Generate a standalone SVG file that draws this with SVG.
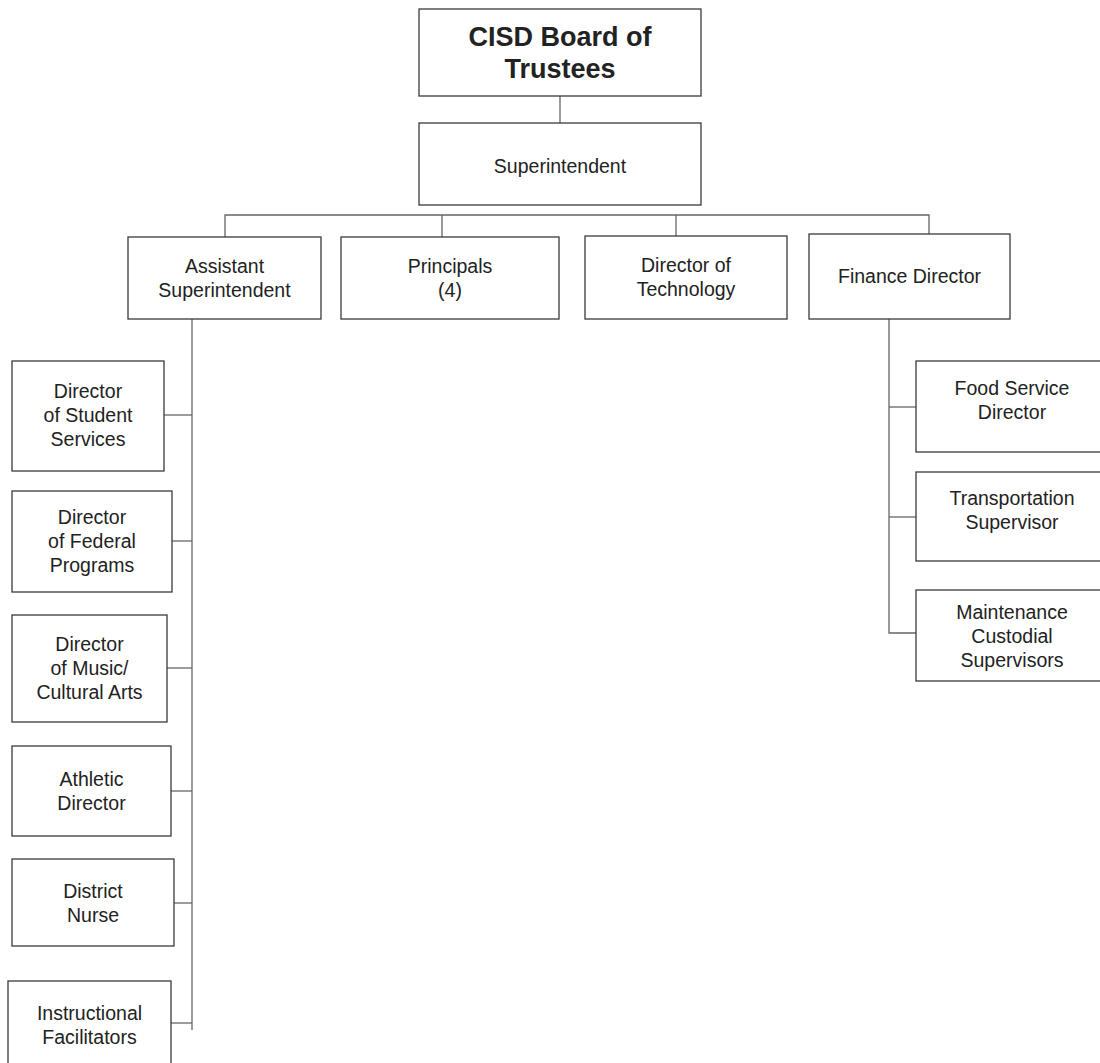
<svg xmlns="http://www.w3.org/2000/svg" width="1100" height="1063" viewBox="0 0 1100 1063">
<style>
  .box { fill: #ffffff; stroke: #3a3a3a; stroke-width: 1.3; }
  .conn { fill: none; stroke: #666666; stroke-width: 1.3; }
  .t { font-family: "Liberation Sans", Arial, sans-serif; font-size: 19.5px; fill: #222222; text-anchor: middle; }
  .tb { font-family: "Liberation Sans", Arial, sans-serif; font-size: 27px; font-weight: bold; fill: #222222; text-anchor: middle; }
</style>
<rect width="1100" height="1063" fill="#ffffff"/>
<g id="connectors">
  <path class="conn" d="M560 96 V123"/>
  <path class="conn" d="M225 237 V215 H929 V234"/>
  <path class="conn" d="M442 215 V237"/>
  <path class="conn" d="M676 215 V236"/>
  <path class="conn" d="M192 319 V1030"/>
  <path class="conn" d="M164 415 H192"/>
  <path class="conn" d="M172 541 H192"/>
  <path class="conn" d="M167 668 H192"/>
  <path class="conn" d="M171 791 H192"/>
  <path class="conn" d="M174 903 H192"/>
  <path class="conn" d="M171 1023 H192"/>
  <path class="conn" d="M889 319 V633 H916"/>
  <path class="conn" d="M889 407 H916"/>
  <path class="conn" d="M889 517 H916"/>
</g>
<g id="board">
  <rect class="box" x="419" y="9" width="282" height="87"/>
  <text class="tb" x="560" y="46">CISD Board of</text>
  <text class="tb" x="560" y="78">Trustees</text>
</g>
<g id="superintendent">
  <rect class="box" x="419" y="123" width="282" height="82"/>
  <text class="t" x="560" y="173">Superintendent</text>
</g>
<g id="asst-superintendent">
  <rect class="box" x="128" y="237" width="193" height="82"/>
  <text class="t" x="224.5" y="273">Assistant</text>
  <text class="t" x="224.5" y="297">Superintendent</text>
</g>
<g id="principals">
  <rect class="box" x="341" y="237" width="218" height="82"/>
  <text class="t" x="450" y="273">Principals</text>
  <text class="t" x="450" y="297">(4)</text>
</g>
<g id="director-technology">
  <rect class="box" x="585" y="236" width="202" height="83"/>
  <text class="t" x="686" y="272">Director of</text>
  <text class="t" x="686" y="296">Technology</text>
</g>
<g id="finance-director">
  <rect class="box" x="809" y="234" width="201" height="85"/>
  <text class="t" x="909.5" y="283">Finance Director</text>
</g>
<g id="student-services">
  <rect class="box" x="12" y="361" width="152" height="110"/>
  <text class="t" x="88" y="398">Director</text>
  <text class="t" x="88" y="422">of Student</text>
  <text class="t" x="88" y="446">Services</text>
</g>
<g id="federal-programs">
  <rect class="box" x="12" y="491" width="160" height="101"/>
  <text class="t" x="92" y="523.5">Director</text>
  <text class="t" x="92" y="547.5">of Federal</text>
  <text class="t" x="92" y="571.5">Programs</text>
</g>
<g id="music-arts">
  <rect class="box" x="12" y="615" width="155" height="107"/>
  <text class="t" x="89.5" y="650.5">Director</text>
  <text class="t" x="89.5" y="674.5">of Music/</text>
  <text class="t" x="89.5" y="698.5">Cultural Arts</text>
</g>
<g id="athletic-director">
  <rect class="box" x="12" y="746" width="159" height="90"/>
  <text class="t" x="91.5" y="786">Athletic</text>
  <text class="t" x="91.5" y="810">Director</text>
</g>
<g id="district-nurse">
  <rect class="box" x="12" y="859" width="162" height="87"/>
  <text class="t" x="93" y="897.5">District</text>
  <text class="t" x="93" y="921.5">Nurse</text>
</g>
<g id="instructional-facilitators">
  <rect class="box" x="8" y="981" width="163" height="88"/>
  <text class="t" x="89.5" y="1020">Instructional</text>
  <text class="t" x="89.5" y="1044">Facilitators</text>
</g>
<g id="food-service">
  <rect class="box" x="916" y="361" width="192" height="91"/>
  <text class="t" x="1012" y="394.5">Food Service</text>
  <text class="t" x="1012" y="418.5">Director</text>
</g>
<g id="transportation">
  <rect class="box" x="916" y="472" width="192" height="89"/>
  <text class="t" x="1012" y="504.5">Transportation</text>
  <text class="t" x="1012" y="528.5">Supervisor</text>
</g>
<g id="maintenance">
  <rect class="box" x="916" y="590" width="192" height="91"/>
  <text class="t" x="1012" y="618.5">Maintenance</text>
  <text class="t" x="1012" y="642.5">Custodial</text>
  <text class="t" x="1012" y="666.5">Supervisors</text>
</g>
</svg>
